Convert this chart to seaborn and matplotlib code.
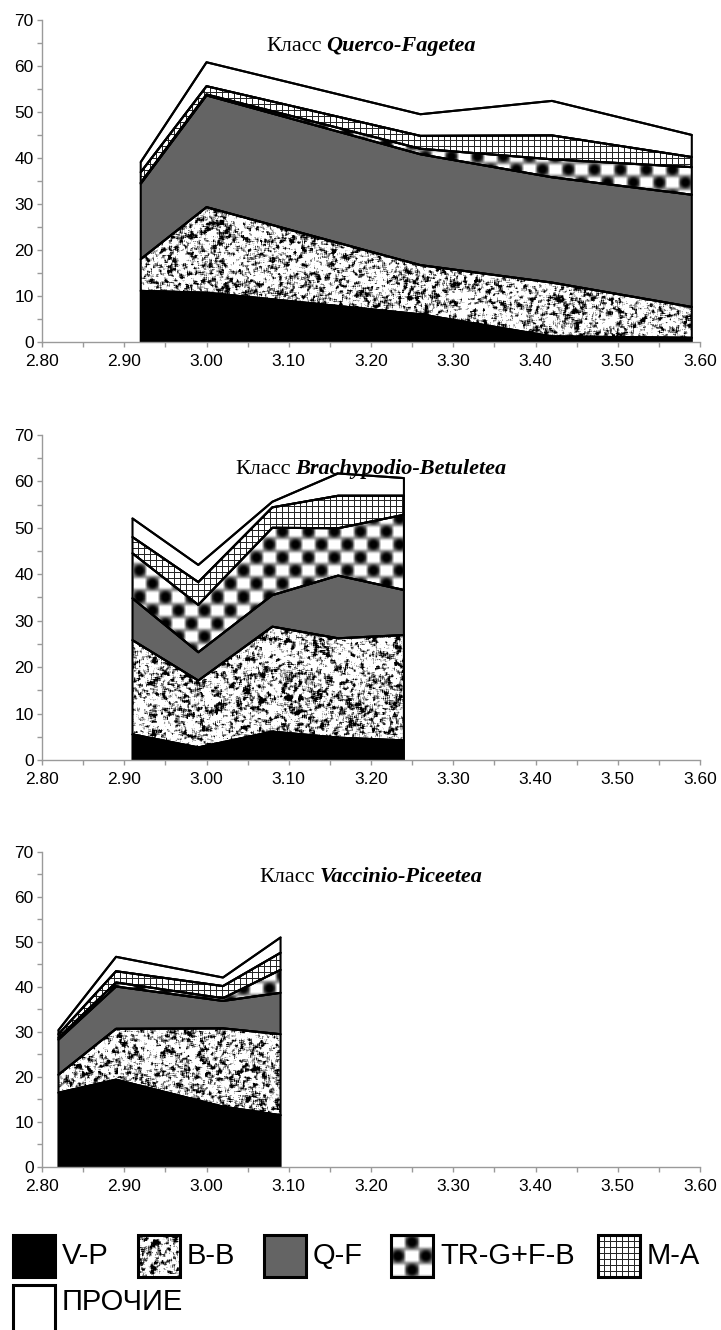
import numpy as np
import pandas as pd
import matplotlib
matplotlib.use("Agg")
import matplotlib.pyplot as plt
import seaborn as sns
from matplotlib.offsetbox import TextArea, HPacker, AnchoredOffsetbox
from matplotlib.patches import Rectangle
from matplotlib.ticker import MultipleLocator, FormatStrFormatter

# ---------------------------------------------------------------- data
groups = ["V-P", "B-B", "Q-F", "TR-G+F-B", "M-A", "ПРОЧИЕ"]
class_names = ["Querco-Fagetea", "Brachypodio-Betuletea", "Vaccinio-Piceetea"]

# Querco-Fagetea
qf_x = [2.92, 3.00, 3.26, 3.42, 3.59]
qf_vp = [11.1, 10.7, 6.0, 1.2, 0.9]
qf_bb = [6.9, 18.6, 10.7, 11.7, 6.7]
qf_qf = [16.4, 24.3, 24.1, 22.9, 24.4]
qf_tr = [0.2, 0.2, 1.2, 3.9, 6.0]
qf_ma = [2.3, 1.8, 2.8, 5.2, 2.2]
qf_other = [2.2, 5.2, 4.7, 7.5, 4.8]

# Brachypodio-Betuletea
bb_x = [2.91, 2.99, 3.08, 3.16, 3.24]
bb_vp = [5.5, 2.7, 6.1, 4.8, 4.2]
bb_bb = [20.3, 14.4, 22.6, 21.4, 22.7]
bb_qf = [9.0, 6.1, 6.8, 13.5, 9.7]
bb_tr = [9.7, 10.2, 14.5, 10.2, 16.2]
bb_ma = [3.5, 4.9, 4.4, 7.0, 4.1]
bb_other = [4.0, 3.7, 1.2, 4.8, 3.8]

# Vaccinio-Piceetea
vp_x = [2.82, 2.89, 3.02, 3.09]
vp_vp = [16.5, 19.4, 13.4, 11.5]
vp_bb = [4.0, 11.3, 17.4, 18.0]
vp_qf = [7.8, 9.4, 6.1, 9.2]
vp_tr = [0.4, 0.9, 0.6, 5.1]
vp_ma = [0.8, 2.5, 2.7, 3.8]
vp_other = [0.9, 3.2, 1.9, 3.4]

panels = [
    (qf_x, [qf_vp, qf_bb, qf_qf, qf_tr, qf_ma, qf_other]),
    (bb_x, [bb_vp, bb_bb, bb_qf, bb_tr, bb_ma, bb_other]),
    (vp_x, [vp_vp, vp_bb, vp_qf, vp_tr, vp_ma, vp_other]),
]

X_MIN, X_MAX, Y_MIN, Y_MAX = 2.80, 3.60, 0, 70


# ------------------------------------------------------- fill textures
def box_blur(a, k):
    pad = k // 2
    b = np.pad(a, pad, mode="wrap")
    c = np.cumsum(np.cumsum(b, 0), 1)
    c = np.pad(c, ((1, 0), (1, 0)))
    return (c[k:, k:] - c[:-k, k:] - c[k:, :-k] + c[:-k, :-k]) / k ** 2


def norm(a):
    return (a - a.mean()) / a.std()


def granite(h, w, seed):
    rng = np.random.default_rng(seed)
    coarse = norm(box_blur(rng.random((h, w)), 5))
    fine = norm(box_blur(rng.random((h, w)), 3))
    n = 0.5 * coarse + 0.5 * fine
    return np.clip(0.85 + 0.8 * n, 0, 1)


def checker(h, w, c=13):
    i = np.arange(h)[:, None]
    j = np.arange(w)[None, :]
    par = ((i // c) + (j // c)) % 2
    u = (i % c + 0.5) / c - 0.5
    v = (j % c + 0.5) / c - 0.5
    r = np.sqrt(u ** 2 + v ** 2)
    dark = np.clip((r - 0.28) / 0.3, 0, 1) * 0.55
    light = 1 - 0.5 * np.clip((np.abs(u) - 0.32) / 0.18, 0, 1)
    val = np.where(par == 1, dark, light)
    return box_blur(val, 3)


def grid(h, w, s=6):
    val = np.ones((h, w))
    i = np.arange(h)
    j = np.arange(w)
    val[i % s == 0, :] = 0.15
    val[:, j % s == 0] = 0.15
    return val


solid = {"V-P": "black", "Q-F": "#646464", "ПРОЧИЕ": "white"}

# ------------------------------------------------------------- figure
sns.set_theme(style="ticks")
plt.rcParams["font.family"] = ["Liberation Sans", "DejaVu Sans"]

FIG_W, FIG_H = 721, 1330
fig = plt.figure(figsize=(FIG_W / 100, FIG_H / 100), dpi=100)
fig.patch.set_facecolor("white")

positions = [
    (0.0583, 0.7429, 0.9126, 0.2421),
    (0.0583, 0.4286, 0.9126, 0.2444),
    (0.0583, 0.1226, 0.9126, 0.2368),
]
title_y = [0.918, 0.895, 0.92]
spine_col = "#9a9a9a"

for p, ((xs, layers), pos, name) in enumerate(zip(panels, positions, class_names)):
    ax = fig.add_axes(pos)
    ax.set_facecolor("white")
    H = int(round(pos[3] * FIG_H))
    W = int(round(pos[2] * FIG_W))
    textures = {
        "B-B": granite(H, W, 10 + p),
        "TR-G+F-B": checker(H, W),
        "M-A": grid(H, W),
    }
    x = np.asarray(xs)
    lower = np.zeros(len(x))
    tops = []
    for g, vals in zip(groups, layers):
        upper = lower + np.asarray(vals)
        if g in solid:
            ax.fill_between(x, lower, upper, facecolor=solid[g],
                            edgecolor="none", zorder=2)
        else:
            poly = ax.fill_between(x, lower, upper, facecolor="white",
                                   edgecolor="none", zorder=2)
            im = ax.imshow(textures[g], cmap="gray", vmin=0, vmax=1,
                           extent=(X_MIN, X_MAX, Y_MIN, Y_MAX),
                           aspect="auto", interpolation="nearest", zorder=2.5)
            im.set_clip_path(poly.get_paths()[0], poly.get_transform())
        # polygon outline (incl. vertical ends)
        ax.fill_between(x, lower, upper, facecolor="none", edgecolor="black",
                        linewidth=1.5, zorder=4)
        tops.append(pd.DataFrame({"x": x, "top": upper, "group": g}))
        lower = upper

    long = pd.concat(tops, ignore_index=True)
    sns.lineplot(data=long, x="x", y="top", units="group", estimator=None,
                 sort=False, color="black", linewidth=1.5, legend=False,
                 ax=ax, zorder=5)

    ax.set_xlim(X_MIN, X_MAX)
    ax.set_ylim(Y_MIN, Y_MAX)
    ax.xaxis.set_major_locator(MultipleLocator(0.1))
    ax.xaxis.set_minor_locator(MultipleLocator(0.05))
    ax.xaxis.set_major_formatter(FormatStrFormatter("%.2f"))
    ax.yaxis.set_major_locator(MultipleLocator(10))
    ax.yaxis.set_minor_locator(MultipleLocator(5))
    ax.set_xlabel("")
    ax.set_ylabel("")
    sns.despine(ax=ax)
    for side in ("left", "bottom"):
        ax.spines[side].set_color(spine_col)
        ax.spines[side].set_linewidth(1.0)
        ax.spines[side].set_zorder(6)
    ax.tick_params(axis="both", which="both", direction="out", length=3.5,
                   width=1.0, color=spine_col, labelsize=12.5,
                   labelcolor="black")
    ax.tick_params(axis="y", pad=2.5)
    ax.tick_params(axis="x", pad=5)

    t1 = TextArea("Класс", textprops=dict(family="Liberation Serif",
                                          size=16, color="black"))
    t2 = TextArea(name, textprops=dict(family="Liberation Serif", size=16,
                                       weight="bold", style="italic",
                                       color="black"))
    box = HPacker(children=[t1, t2], align="baseline", pad=0, sep=3.5)
    anchored = AnchoredOffsetbox(loc="center", child=box, pad=0, borderpad=0,
                                 frameon=False, bbox_to_anchor=(0.5, title_y[p]),
                                 bbox_transform=ax.transAxes)
    ax.add_artist(anchored)

# ------------------------------------------------------------- legend
lax = fig.add_axes([0, 0, 1, 0.1])
lax.set_xlim(0, FIG_W)
lax.set_ylim(0, 133)
lax.axis("off")

legend_slots = [(13, 53), (138, 53), (264, 53), (391, 53), (598, 53), (13, -3)]
legend_tex = {
    "B-B": granite(42, 42, 42),
    "TR-G+F-B": checker(42, 42, c=14),
    "M-A": grid(42, 42, s=6),
}
for g, (x0, y0) in zip(groups, legend_slots):
    size = 42 if g != "ПРОЧИЕ" else 48
    if g in solid:
        lax.add_patch(Rectangle((x0, y0), 42, size, facecolor=solid[g],
                                edgecolor="none", zorder=2))
    else:
        lax.imshow(legend_tex[g], cmap="gray", vmin=0, vmax=1,
                   extent=(x0, x0 + 42, y0, y0 + 42), aspect="auto",
                   interpolation="nearest", zorder=2)
    lax.add_patch(Rectangle((x0, y0), 42, size, facecolor="none",
                            edgecolor="black", linewidth=2.2, zorder=3))
    lax.text(x0 + 49, y0 + 21 if g != "ПРОЧИЕ" else 28, g, fontsize=21,
             va="center", ha="left", color="black",
             family=["Liberation Sans", "DejaVu Sans"])
lax.set_xlim(0, FIG_W)
lax.set_ylim(0, 133)

fig.savefig("out.png", dpi=100, facecolor="white")
